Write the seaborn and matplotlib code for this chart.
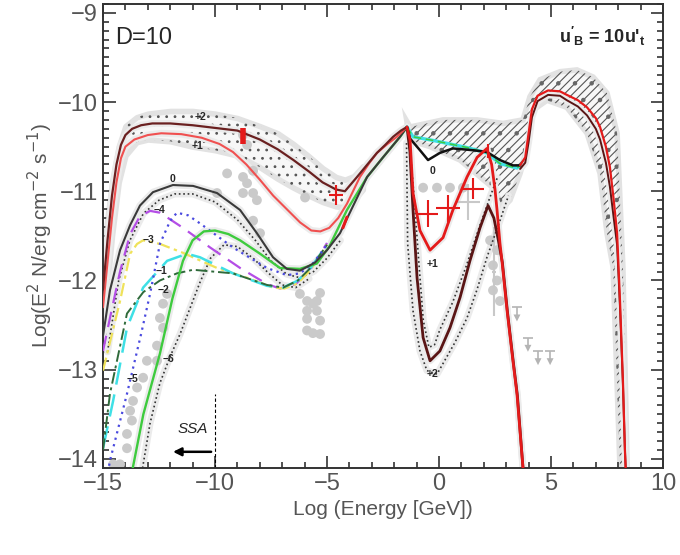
import matplotlib
matplotlib.use("Agg")
import matplotlib.pyplot as plt
import seaborn as sns

# model SEDs: log10(E/GeV) vs log10(E^2 N / erg cm^-2 s^-1)
# +2 (dark red)
p2_left_x = [-15.0, -14.8, -14.6, -14.4, -14.2, -14.0, -13.7, -13.3, -12.8, -12.0, -11.0, -10.0, -9.0, -8.0,
             -7.2, -6.5, -5.8, -5.2, -4.6, -4.2, -3.66, -3.2, -2.77, -2.4, -2.05, -1.7, -1.43]
p2_left_y = [-12.1, -11.55, -11.05, -10.7, -10.48, -10.37, -10.3, -10.26, -10.24, -10.24, -10.26, -10.29, -10.32,
             -10.42, -10.53, -10.65, -10.78, -10.9, -10.98, -11.0, -10.84, -10.7, -10.57, -10.48, -10.39, -10.32, -10.28]
p2_right_x = [-1.43, -1.3, -1.16, -0.98, -0.71, -0.4, 0.04, 0.49, 0.94, 1.38, 1.83, 2.19, 2.45, 2.65, 2.83, 3.06,
              3.32, 3.5, 3.78]
p2_right_y = [-10.28, -10.55, -11.21, -11.97, -12.64, -12.9, -12.79, -12.53, -12.19, -11.78, -11.41, -11.16, -11.3,
              -11.55, -11.8, -12.36, -12.92, -13.29, -14.2]

# +1 (red)
p1_left_x = [-15.0, -14.8, -14.6, -14.4, -14.2, -14.0, -13.6, -13.0, -12.4, -11.5, -10.6, -9.8, -9.2, -8.6, -8.0,
             -7.4, -6.8, -6.2, -5.7, -5.3, -4.9, -4.5, -4.11, -3.53, -3.1, -2.77, -2.3, -1.88, -1.43]
p1_left_y = [-12.3, -11.8, -11.3, -10.9, -10.63, -10.5, -10.42, -10.37, -10.35, -10.36, -10.4, -10.47, -10.56, -10.7,
             -10.87, -11.05, -11.2, -11.35, -11.44, -11.45, -11.41, -11.3, -11.14, -10.84, -10.68, -10.57, -10.47,
             -10.39, -10.28]
p1_right_x = [-1.43, -1.29, -1.16, -0.85, -0.4, 0.18, 0.62, 1.25, 1.7, 2.14, 2.35, 2.5, 2.59, 2.72, 2.81, 3.04,
              3.3, 3.48, 3.75, 3.8]
p1_right_y = [-10.28, -10.43, -11.02, -11.44, -11.66, -11.52, -11.21, -10.84, -10.62, -10.52, -10.7, -10.98, -11.21,
              -11.58, -11.78, -12.34, -12.9, -13.27, -14.1, -14.2]

# high energy hump shared by all models
hump_x = [3.62, 3.85, 4.0, 4.15, 4.4, 4.87, 5.4, 5.71, 6.2, 6.61, 7.0, 7.19, 7.45, 7.63, 7.8, 7.95, 8.08, 8.21,
          8.3, 8.35]
hump_red_y = [-10.71, -10.62, -10.35, -10.08, -9.93, -9.87, -9.88, -9.92, -9.98, -10.06, -10.18, -10.28, -10.5,
              -10.73, -11.1, -11.47, -12.23, -13.12, -13.9, -14.2]
hump_dark_y = [-10.75, -10.68, -10.45, -10.17, -9.99, -9.92, -9.93, -9.98, -10.05, -10.15, -10.3, -10.42, -10.68,
               -10.95, -11.3, -11.6, -12.3, -13.15, -13.9, -14.2]

# 0 (black)
c0_left_x = [-15.0, -14.69, -14.24, -13.79, -13.35, -12.77, -11.88, -10.98, -9.91, -8.88, -8.13, -7.41, -6.79,
             -6.21, -5.54, -5.0, -4.42, -4.0, -3.21, -2.5, -1.74, -1.43]
c0_left_y = [-12.62, -12.11, -11.66, -11.38, -11.16, -11.01, -10.93, -10.94, -11.02, -11.21, -11.47, -11.74, -11.87,
             -11.89, -11.8, -11.66, -11.47, -11.25, -10.84, -10.62, -10.39, -10.28]
c0_right_x = [-1.43, -1.29, -0.85, -0.49, 0.04, 0.62, 1.52, 2.14, 2.72, 3.3, 3.62]
c0_right_y = [-10.28, -10.41, -10.54, -10.65, -10.57, -10.52, -10.54, -10.56, -10.65, -10.71, -10.71]

# right branch shared by the negative models
bund_x = [-1.43, -1.16, -0.27, 1.25, 2.14, 2.72, 3.48, 3.62]
bund_y = [-10.28, -10.39, -10.43, -10.51, -10.57, -10.69, -10.74, -10.71]

# -4 (purple dashed)
m4_x = [-15.0, -14.69, -14.24, -13.79, -13.35, -12.9, -12.46, -11.43, -10.22, -8.88, -7.68, -7.1, -6.4, -5.7, -5.0]
m4_y = [-12.79, -12.42, -11.9, -11.48, -11.28, -11.22, -11.24, -11.41, -11.63, -11.86, -12.04, -12.09, -12.04,
        -11.86, -11.58]
# -3 (yellow dash-dot)
m3_x = [-15.0, -14.6, -14.24, -13.79, -13.48, -13.21, -12.46, -11.43, -9.91, -8.44, -7.41, -6.9, -6.3, -5.7, -5.0]
m3_y = [-13.01, -12.6, -12.23, -11.7, -11.59, -11.55, -11.59, -11.69, -11.86, -11.98, -12.08, -12.09, -12.03,
        -11.87, -11.6]
# -1 (cyan long dash)
m1_x = [-15.0, -14.55, -13.93, -13.21, -12.14, -11.25, -10.67, -9.2, -7.68, -6.96, -6.3, -5.7, -5.0]
m1_y = [-13.88, -13.35, -12.53, -12.08, -11.78, -11.7, -11.74, -11.92, -12.06, -12.08, -12.0, -11.85, -11.6]
# -2 (dark green dash-dot)
m2_x = [-15.0, -14.69, -13.93, -13.2, -12.46, -11.7, -10.98, -9.2, -7.68, -6.96, -6.3, -5.7, -5.0]
m2_y = [-13.9, -13.27, -12.37, -12.13, -12.0, -11.92, -11.88, -11.92, -12.05, -12.08, -12.0, -11.85, -11.6]
# -5 (blue dotted)
m5_x = [-14.78, -14.69, -13.93, -13.3, -12.9, -12.46, -12.0, -11.7, -11.2, -10.67, -9.2, -7.68, -6.79, -6.2,
        -5.6, -5.0]
m5_y = [-14.15, -14.02, -13.27, -12.6, -12.15, -11.59, -11.33, -11.24, -11.27, -11.36, -11.63, -11.86, -11.94,
        -11.92, -11.8, -11.6]
# -6 (green)
m6_x = [-13.75, -13.2, -12.46, -11.9, -11.43, -11.0, -10.5, -10.0, -9.4, -8.88, -7.99, -7.1, -6.21, -5.45, -4.9,
        -4.11, -3.21, -2.5, -1.74, -1.43]
m6_y = [-14.2, -13.5, -12.82, -12.2, -11.78, -11.55, -11.45, -11.44, -11.48, -11.55, -11.7, -11.86, -11.87, -11.81,
        -11.62, -11.21, -10.84, -10.62, -10.39, -10.28]

# dotted envelopes
dotA_x = [-1.45, -1.4, -1.16, -0.85, -0.54, -0.09, 0.18, 0.7, 1.25, 1.7, 2.14, 2.72, 3.1]
dotA_y = [-10.46, -11.59, -12.34, -12.79, -13.01, -13.05, -12.93, -12.7, -12.42, -12.1, -11.74, -11.33, -11.05]
dotB_x = [-1.3, -1.1, -0.9, -0.7, -0.45, -0.2, 0.04, 0.6, 1.2, 1.8, 2.3, 2.6]
dotB_y = [-10.5, -11.1, -11.8, -12.45, -12.75, -12.72, -12.55, -12.25, -11.85, -11.4, -11.05, -10.85]
dotC_x = [-14.8, -14.3, -13.8, -13.2, -12.5, -11.8, -11.0, -10.0, -9.0, -8.2, -7.5, -6.8, -6.2, -5.6, -5.0, -4.4]
dotC_y = [-12.8, -12.0, -11.55, -11.25, -11.1, -11.03, -11.03, -11.12, -11.32, -11.55, -11.78, -11.93, -11.97,
          -11.9, -11.75, -11.55]
dotD_x = [-13.3, -12.9, -12.46, -12.0, -11.56, -11.1, -10.67, -10.2, -9.6, -9.0, -8.3, -7.6, -7.0, -6.4, -5.8]
dotD_y = [-14.2, -13.6, -13.15, -12.85, -12.6, -12.3, -12.02, -11.75, -11.6, -11.62, -11.75, -11.92, -12.05,
          -12.08, -11.98]

# uncertainty bands
bandL_x = [-14.9, -14.6, -14.3, -14.0, -13.5, -13.0, -12.0, -11.0, -10.0, -9.0, -8.0, -7.2, -6.5, -5.8, -5.2,
           -4.6, -4.2, -3.8, -3.4]
bandL_hi = [-11.5, -10.9, -10.5, -10.27, -10.17, -10.13, -10.1, -10.1, -10.13, -10.18, -10.27, -10.35, -10.47,
            -10.61, -10.74, -10.84, -10.87, -10.83, -10.72]
bandL_lo = [-12.3, -11.5, -10.9, -10.6, -10.45, -10.42, -10.44, -10.5, -10.54, -10.6, -10.73, -10.86, -10.96,
            -11.05, -11.12, -11.17, -11.18, -11.1, -10.98]
bandR_x = [-1.43, -1.29, 0.18, 1.7, 2.86, 3.75, 4.06, 4.51, 5.4, 6.16, 6.88, 7.5, 7.95, 8.08, 8.21, 8.4,
           8.08, 7.77, 7.5, 7.19, 6.61, 5.71, 4.82, 4.2, 3.93, 3.62, 3.17, 2.86, 2.41, 0.94, -0.4, -1.29]
bandR_y = [-10.22, -10.28, -10.2, -10.2, -10.24, -10.2, -9.94, -9.75, -9.66, -9.64, -9.72, -9.9, -10.35, -11.1,
           -11.85, -14.1, -14.1, -11.85, -11.47, -10.8, -10.35, -10.06, -9.98, -10.09, -10.51, -10.8, -11.1, -11.18,
           -10.96, -10.65, -10.5, -10.43]

# archival data (grey)
arch_x = [-9.46, -8.75, -8.3, -8.75, -9.91, -8.3, -8.3, -8.57, -7.99, -8.13, -8.75, -8.57, -5.98,
          -12.14, -12.32, -12.46, -12.32, -12.59, -12.59, -13.04, -13.21, -13.48, -13.66, -13.79, -13.71, -13.93,
          -13.93, -14.24, -14.55,
          -6.21, -5.89, -5.63, -5.89, -5.45, -5.89, -5.31, -5.89, -5.63, -5.31, -5.31, -5.45,
          -0.71, -0.09, 0.49, 1.07, 2.41, 2.59, 2.41, 2.72, 2.59, 2.28]
arch_y = [-10.8, -10.84, -11.02, -11.02, -11.02, -11.33, -10.77, -10.91, -11.47, -11.1, -10.37, -10.48, -11.07,
          -12.15, -12.26, -12.42, -12.53, -12.73, -12.9, -12.9, -13.09, -13.2, -13.35, -13.46, -13.57, -13.72,
          -13.88, -14.06, -14.06,
          -12.15, -12.23, -12.26, -12.34, -12.34, -12.43, -12.45, -12.56, -12.59, -12.6, -12.14, -12.23,
          -10.96, -10.96, -10.96, -10.96, -11.83, -12.0, -12.11, -12.23, -11.66, -11.55]
ulim_x = [3.48, 3.97, 4.42, 4.96]
ulim_y = [-12.3, -12.64, -12.79, -12.79]

# simultaneous data (red)
red_x = [-8.75, -4.6, -0.49, 0.4, 1.52, 2.2]
red_y = [-10.38, -11.04, -11.25, -11.19, -10.97, -10.55]
red_xerr = [0.0, 0.33, 0.45, 0.55, 0.5, 0.0]
red_yerr = [0.09, 0.11, 0.15, 0.15, 0.12, 0.08]

labels = ["+2", "+1", "0", "\u22124", "\u22123", "\u22121", "\u22122", "\u22125", "\u22126", "0", "+1", "+2"]
label_x = [-10.67, -10.76, -11.92, -12.46, -12.99, -12.37, -12.3, -13.7, -12.1, -0.31, -0.31, -0.31]
label_y = [-10.17, -10.49, -10.86, -11.21, -11.55, -11.89, -12.11, -13.1, -12.88, -10.77, -11.81, -13.05]

sns.set_style("ticks")
plt.rcParams['font.family'] = ['Liberation Sans', 'DejaVu Sans']
plt.rcParams['hatch.linewidth'] = 0.8

fig = plt.figure(figsize=(6.8, 5.55), dpi=100)
ax = fig.add_axes([0.1515, 0.157, 0.8235, 0.836])


def line(x, y, color, lw=1.5, ls='-', z=3, halo=False):
    if halo:
        sns.lineplot(x=x, y=y, ax=ax, color='#ebebeb', lw=5, sort=False, estimator=None, zorder=1,
                     solid_capstyle='round')
    sns.lineplot(x=x, y=y, ax=ax, color=color, lw=lw, linestyle=ls, sort=False, estimator=None, zorder=z)


# bands
ax.fill_between(bandL_x, bandL_lo, bandL_hi, facecolor='#f7f7f7', edgecolor='#e2e2e2', lw=4, zorder=0.5)
ax.fill_between(bandL_x, bandL_lo, bandL_hi, facecolor='none', edgecolor='#555555', hatch='..', lw=0, zorder=0.6)
ax.fill(bandR_x, bandR_y, facecolor='#f7f7f7', edgecolor='#e2e2e2', lw=4, zorder=0.5)
ax.fill(bandR_x, bandR_y, facecolor='none', edgecolor='#555555', hatch='////', lw=0, zorder=0.6)
ax.fill(bandR_x, bandR_y, facecolor='none', edgecolor='#666666', hatch='.', lw=0, zorder=0.6)

# dotted envelopes
for dx, dy in [(dotA_x, dotA_y), (dotB_x, dotB_y), (dotC_x, dotC_y), (dotD_x, dotD_y)]:
    line(dx, dy, '#333333', lw=1.2, ls=':', z=2, halo=True)

# archival points
sns.scatterplot(x=arch_x, y=arch_y, ax=ax, color='#cacaca', s=50, edgecolor='none', zorder=1.5)
ax.errorbar(ulim_x, ulim_y, xerr=0.22, fmt='none', ecolor='#b4b4b4', lw=1.2, zorder=1.5)
ax.errorbar(ulim_x, ulim_y, yerr=[[0.12] * 4, [0.0] * 4], fmt='none', ecolor='#b4b4b4', lw=1.2, zorder=1.5)
sns.scatterplot(x=ulim_x, y=[v - 0.12 for v in ulim_y], ax=ax, color='#b4b4b4', marker='v', s=25,
                edgecolor='none', zorder=1.5)
ax.errorbar([1.3, 2.45], [-11.12, -11.9], xerr=[0.55, 0.1], yerr=[0.2, 0.5], fmt='none', ecolor='#c8c8c8',
            lw=1.5, zorder=1.5)

# negative models
line(m4_x, m4_y, '#b44ee6', lw=1.6, ls=(0, (7, 4)))
line(m3_x, m3_y, '#efe25a', lw=1.6, ls=(0, (6, 2, 1.5, 2)))
line(m1_x, m1_y, '#3fe0e6', lw=1.8, ls=(0, (9, 4)))
line(m2_x, m2_y, '#2f6a3a', lw=1.4, ls=(0, (6, 2, 1.5, 2)))
line(m5_x, m5_y, '#4a4adf', lw=1.6, ls=(0, (1, 2)))
line(m6_x, m6_y, '#3ecb3e', lw=1.7, halo=True)
line(bund_x, bund_y, '#3fe0e6', lw=2.4)
line(bund_x, bund_y, '#3ecb3e', lw=1.1, ls=(0, (5, 3)))

# 0, +1, +2
line(c0_left_x, c0_left_y, '#3a3a3a', lw=1.5, halo=True)
line(c0_right_x, c0_right_y, '#111111', lw=1.8)
line(p1_left_x, p1_left_y, '#f05050', lw=1.5, halo=True)
line(p2_left_x, p2_left_y, '#6a2020', lw=1.6, halo=True)
line(p2_right_x, p2_right_y, '#5a1515', lw=2.0, halo=True)
line(p1_right_x, p1_right_y, '#e41a1a', lw=2.0, halo=True)
line(hump_x, hump_dark_y, '#5a1515', lw=1.4, halo=True)
line(hump_x, hump_red_y, '#e41a1a', lw=1.6)

# red data
ax.errorbar(red_x, red_y, xerr=red_xerr, yerr=red_yerr, fmt='none', ecolor='#e41a1a', lw=1.5, zorder=5)
ax.errorbar([red_x[0]], [red_y[0]], yerr=[red_yerr[0]], fmt='none', ecolor='#e41a1a', lw=4, zorder=5)
sns.lineplot(x=[-4.29, -4.11], y=[-11.41, -11.29], ax=ax, color='#e41a1a', lw=2.2, zorder=5)

for t, lx, ly in zip(labels, label_x, label_y):
    ax.text(lx, ly, t, fontsize=7.5, fontweight='bold', ha='center', va='center', zorder=6)

# SSA marker
ax.vlines(-10, -14.1, -13.27, colors='k', linestyles=(0, (3, 2)), lw=0.8)
ax.annotate('', xy=(-12.0, -13.92), xytext=(-10.05, -13.92),
            arrowprops=dict(arrowstyle='-|>', color='k', lw=1.8, mutation_scale=12))
ax.text(-11.0, -13.66, 'SSA', fontsize=11, style='italic', ha='center', va='center')

ax.text(-14.45, -9.28, 'D=10', fontsize=17, ha='left', va='center')
ax.text(0.968, 0.93, r"$\mathregular{u'_B}$ = 10u$\mathregular{'_t}$", transform=ax.transAxes, fontsize=13,
        fontweight='bold', ha='right', va='center')

ax.set_xlim(-15, 10)
ax.set_ylim(-14.1, -8.9)
ax.set_xticks([-15, -10, -5, 0, 5, 10])
ax.set_xticks(range(-15, 11), minor=True)
ax.set_yticks([-14, -13, -12, -11, -10, -9])
ax.set_yticks([-14 + 0.1 * i for i in range(52)], minor=True)
ax.tick_params(which='both', direction='in', top=True, right=True, color='#333333', labelcolor='#555555',
               labelsize=17, width=1.2)
ax.tick_params(which='major', length=9)
ax.tick_params(which='minor', length=4.5)
for s in ax.spines.values():
    s.set_color('#333333')
    s.set_linewidth(1.4)
ax.set_xlabel('Log (Energy [GeV])', fontsize=15, color='#555555', labelpad=4)
ax.set_ylabel(r'Log(E$^2$ N/erg cm$^{-2}$ s$^{-1}$)', fontsize=15, color='#555555', labelpad=2)

fig.savefig('out.png', dpi=100)
